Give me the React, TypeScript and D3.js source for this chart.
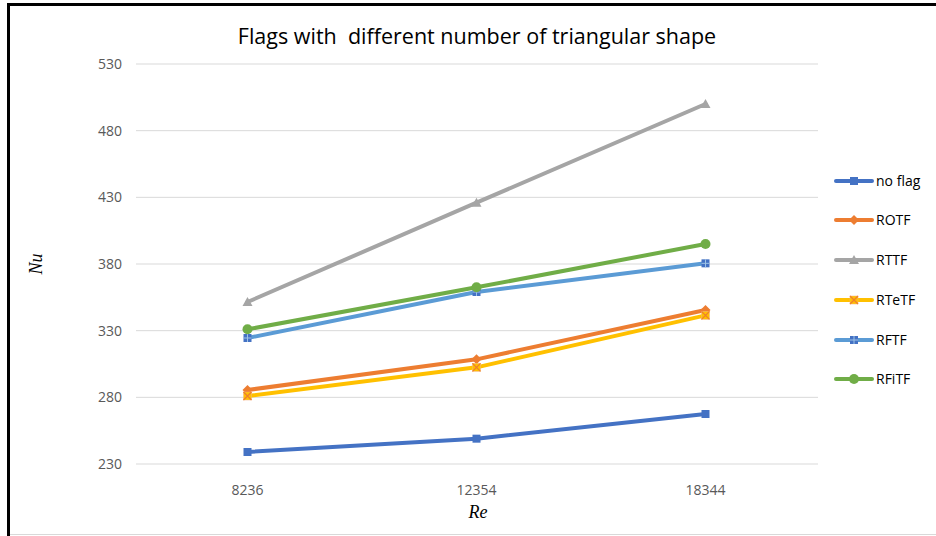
import React from "react";
import * as d3 from "d3";

const categories = ["8236", "12354", "18344"];
const seriesNames = ["no flag", "ROTF", "RTTF", "RTeTF", "RFTF", "RFiTF"];
const noFlag = [239, 249, 267.5];
const rotf = [285.5, 308.5, 345.5];
const rttf = [351.5, 426, 500];
const rtetf = [281, 302.5, 341.5];
const rftf = [324.5, 359, 380.5];
const rfitf = [331, 362.5, 395];
const yTicks = [230, 280, 330, 380, 430, 480, 530];
const colors = ["#4472C4", "#ED7D31", "#A5A5A5", "#FFC000", "#5B9BD5", "#70AD47"];
const markers = ["square", "diamond", "triangle", "xsquare", "plussquare", "circle"];

const allSeries = [noFlag, rotf, rttf, rtetf, rftf, rfitf];

function Marker({ kind, x, y, color }: { kind: string; x: number; y: number; color: string }) {
  const s = 4;
  if (kind === "square")
    return <rect x={x - s} y={y - s} width={2 * s} height={2 * s} fill={color} />;
  if (kind === "diamond")
    return <path d={`M${x},${y - 5}L${x + 5},${y}L${x},${y + 5}L${x - 5},${y}Z`} fill={color} />;
  if (kind === "triangle")
    return <path d={`M${x},${y - 5}L${x + 5},${y + 4}L${x - 5},${y + 4}Z`} fill={color} />;
  if (kind === "circle") return <circle cx={x} cy={y} r={5} fill={color} />;
  if (kind === "xsquare")
    return (
      <g>
        <rect x={x - s} y={y - s} width={2 * s} height={2 * s} fill={color} stroke="#F4B183" strokeWidth={0.5} />
        <path d={`M${x - s},${y - s}L${x + s},${y + s}M${x + s},${y - s}L${x - s},${y + s}`} stroke="#ED7D31" strokeWidth={1.2} />
      </g>
    );
  if (kind === "plussquare")
    return (
      <g>
        <rect x={x - s} y={y - s} width={2 * s} height={2 * s} fill="#4472C4" />
        <path d={`M${x},${y - s}L${x},${y + s}M${x - s},${y}L${x + s},${y}`} stroke="#9DC3E6" strokeWidth={1} />
      </g>
    );
  return null;
}

export default function App() {
  const W = 936;
  const H = 536;
  const x = d3.scaleBand().domain(categories).range([133, 820]);
  const y = d3.scaleLinear().domain([230, 530]).range([464, 64]);
  const line = d3
    .line<number>()
    .x((_, i) => (x(categories[i]) as number) + x.bandwidth() / 2)
    .y((d) => y(d));
  const font = "'Open Sans', 'Liberation Sans', sans-serif";
  const serif = "'Liberation Serif', 'DejaVu Serif', serif";
  const legendY = [181, 220, 260, 300, 340, 379];

  return (
    <svg
      width={W}
      height={H}
      style={{ position: "absolute", left: 0, top: 0, background: "#fff" }}
      fontFamily={font}
    >
      <rect x={0} y={0} width={W} height={H} fill="#fff" />
      <line x1={8} y1={4.5} x2={W} y2={4.5} stroke="#000" strokeWidth={3} />
      <line x1={8.5} y1={3} x2={8.5} y2={H} stroke="#000" strokeWidth={3} />
      <line x1={10} y1={534.5} x2={W} y2={534.5} stroke="#D9D9D9" strokeWidth={1} />

      <text x={477} y={44} textAnchor="middle" fontSize={21.5} fill="#000" style={{ whiteSpace: "pre" }}>
        Flags with  different number of triangular shape
      </text>

      {yTicks.map((t) => (
        <g key={t}>
          <line x1={136} x2={818} y1={y(t)} y2={y(t)} stroke="#D9D9D9" strokeWidth={1} />
          <text x={122} y={y(t) + 5} textAnchor="end" fontSize={14} fill="#595959">
            {t}
          </text>
        </g>
      ))}

      {categories.map((c) => (
        <text
          key={c}
          x={(x(c) as number) + x.bandwidth() / 2}
          y={495}
          textAnchor="middle"
          fontSize={14}
          fill="#595959"
        >
          {c}
        </text>
      ))}

      <text x={478} y={518} textAnchor="middle" fontSize={18} fontStyle="italic" fill="#000" fontFamily={serif}>
        Re
      </text>
      <text
        transform="translate(42,264) rotate(-90)"
        textAnchor="middle"
        fontSize={18}
        fontStyle="italic"
        fill="#000"
        fontFamily={serif}
      >
        Nu
      </text>

      {allSeries.map((s, si) => (
        <g key={seriesNames[si]}>
          <path d={line(s) as string} fill="none" stroke={colors[si]} strokeWidth={4} strokeLinejoin="round" strokeLinecap="round" />
          {s.map((v, i) => (
            <Marker
              key={i}
              kind={markers[si]}
              x={(x(categories[i]) as number) + x.bandwidth() / 2}
              y={y(v)}
              color={colors[si]}
            />
          ))}
        </g>
      ))}

      {seriesNames.map((n, si) => (
        <g key={n}>
          <line x1={836} x2={872} y1={legendY[si]} y2={legendY[si]} stroke={colors[si]} strokeWidth={4} strokeLinecap="round" />
          <Marker kind={markers[si]} x={854} y={legendY[si]} color={colors[si]} />
          <text x={876} y={legendY[si] + 5} fontSize={14} fill="#000">
            {n}
          </text>
        </g>
      ))}
    </svg>
  );
}
